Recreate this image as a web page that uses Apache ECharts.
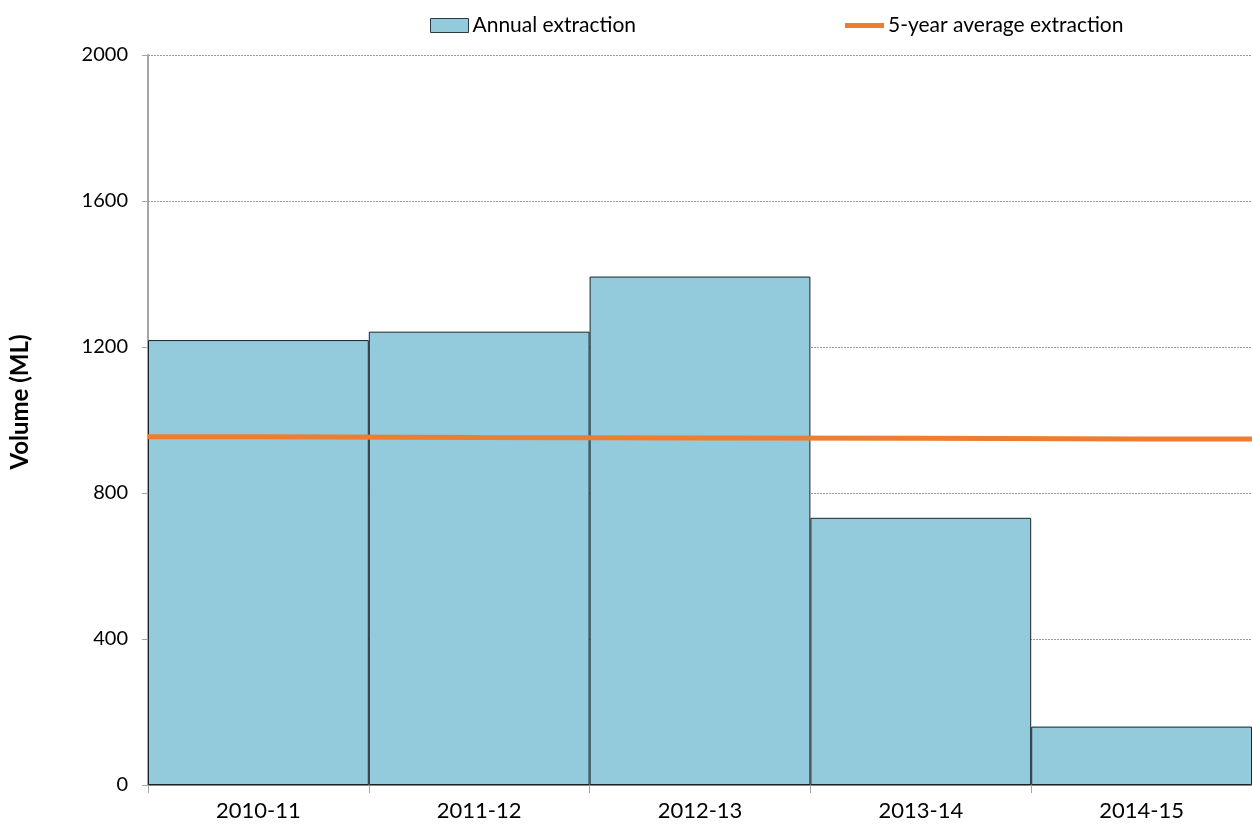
<!DOCTYPE html>
<html>
<head>
<meta charset="utf-8">
<script src="https://cdn.jsdelivr.net/npm/echarts@6/dist/echarts.min.js"></script>
<style>html,body{margin:0;padding:0;background:#fff}#c{width:1252px;height:830px}</style>
</head>
<body>
<div id="c"></div>
<script>
const categories = ['2010-11', '2011-12', '2012-13', '2013-14', '2014-15'];
const annualExtraction = [1219, 1242, 1393, 732, 160];
const avgExtraction = [954, 952, 951, 950, 948];
const yTicks = [0, 400, 800, 1200, 1600, 2000];

const FONT = 'Lato, "Open Sans", sans-serif';
const chart = echarts.init(document.getElementById('c'), null, {renderer: 'canvas'});

// line points at category centres, extended to the plot edges
const avgPoints = [[0, avgExtraction[0]]]
  .concat(avgExtraction.map((v, i) => [i + 0.5, v]))
  .concat([[categories.length, avgExtraction[avgExtraction.length - 1]]]);

chart.setOption({
  animation: false,
  backgroundColor: '#fff',
  grid: {left: 148, right: 0, top: 55, bottom: 45, containLabel: false},
  legend: [
    {
      left: 425, top: 10, itemWidth: 38, itemHeight: 14, itemGap: 0,
      data: [{name: 'Annual extraction', icon: 'rect'}],
      itemStyle: {borderColor: '#2b3a40', borderWidth: 1},
      textStyle: {fontFamily: FONT, fontSize: 21, color: '#000', padding: [0, 0, 0, -1]}
    },
    {
      left: 840, top: 10, itemWidth: 39, itemHeight: 5, itemGap: 0,
      data: [{name: '5-year average extraction', icon: 'rect'}],
      itemStyle: {color: '#ed7d31'},
      textStyle: {fontFamily: FONT, fontSize: 21, color: '#000', padding: [0, 0, 0, -1]}
    }
  ],
  graphic: [{
    type: 'text',
    x: 20, y: 402, rotation: Math.PI / 2,
    style: {
      text: 'Volume (ML)', fontFamily: FONT, fontSize: 24, fontWeight: 'bold',
      fill: '#000', align: 'center', verticalAlign: 'middle'
    }
  }],
  xAxis: [
    {
      type: 'category', data: categories,
      axisLine: {lineStyle: {color: '#868686', width: 2}},
      axisTick: {show: true, alignWithLabel: false, length: 8, lineStyle: {color: '#a6a6a6', width: 1}},
      axisLabel: {fontFamily: FONT, fontSize: 22, color: '#000', margin: 15},
      splitLine: {show: false}
    },
    {
      type: 'value', min: 0, max: categories.length, show: false, position: 'top'
    }
  ],
  yAxis: {
    type: 'value', min: yTicks[0], max: yTicks[yTicks.length - 1], interval: 400,
    axisLine: {show: true, lineStyle: {color: '#a6a6a6', width: 2}},
    axisTick: {show: true, length: 6, lineStyle: {color: '#a6a6a6'}},
    axisLabel: {fontFamily: FONT, fontSize: 20, color: '#000', margin: 20, formatter: v => String(v)},
    splitLine: {show: true, lineStyle: {color: '#9a9a9a', type: [2, 1], width: 1}}
  },
  series: [
    {
      name: 'Annual extraction', type: 'bar', data: annualExtraction,
      xAxisIndex: 0, barWidth: '100%', barCategoryGap: '0%',
      itemStyle: {color: '#93cbdc', borderColor: '#1a2428', borderWidth: 1}
    },
    {
      name: '5-year average extraction', type: 'line', data: avgPoints,
      xAxisIndex: 1, symbol: 'none', z: 5,
      lineStyle: {color: '#ed7d31', width: 5},
      itemStyle: {color: '#ed7d31'}
    }
  ]
});
</script>
</body>
</html>
